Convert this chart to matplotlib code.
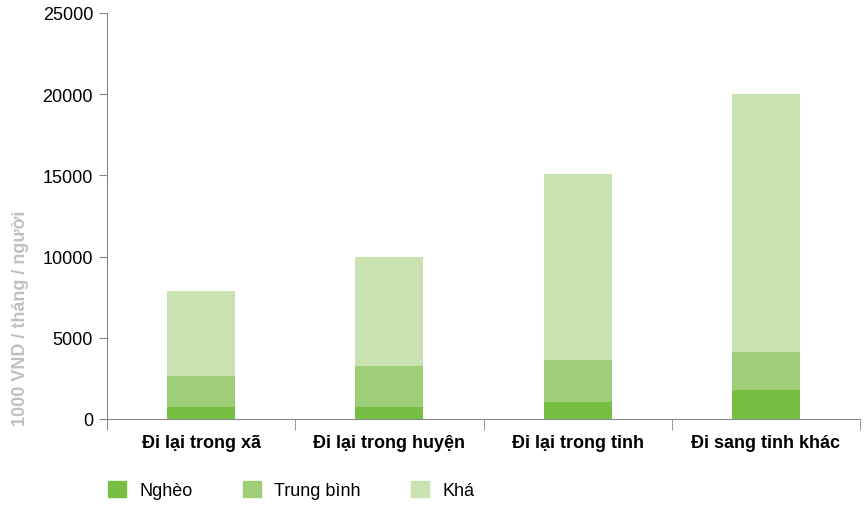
import matplotlib
matplotlib.use("Agg")
import matplotlib.pyplot as plt
from matplotlib.patches import Patch

plt.rcParams['font.family'] = ['Liberation Sans', 'DejaVu Sans']

# data (1000 VND / month / person)
categories = ['Đi lại trong xã', 'Đi lại trong huyện', 'Đi lại trong tỉnh', 'Đi sang tỉnh khác']
ngheo = [740, 740, 1050, 1790]
trung_binh = [2650, 3260, 3630, 4130]
kha = [7880, 9980, 15090, 20010]
series_names = ['Nghèo', 'Trung bình', 'Khá']
colors = ['#77bf43', '#9fce78', '#c8e2b0']

fig = plt.figure(figsize=(8.67, 5.06), dpi=100)
ax = fig.add_axes([107 / 867, 1 - 420 / 506, 753 / 867, 406 / 506])

x = list(range(len(categories)))
w = 0.36
# each level drawn from zero, lighter ones behind
ax.bar(x, kha, width=w, color=colors[2], zorder=1)
ax.bar(x, trung_binh, width=w, color=colors[1], zorder=2)
ax.bar(x, ngheo, width=w, color=colors[0], zorder=3)

ax.set_xlim(-0.5, len(categories) - 0.5)
ax.set_ylim(0, 25000)
ax.set_yticks([0, 5000, 10000, 15000, 20000, 25000])
ax.tick_params(axis='y', labelsize=13, length=6, color='#888888', pad=4)

ax.set_xticks(x)
ax.set_xticklabels(categories, fontsize=13, fontweight='bold')
ax.set_xticks([i - 0.5 for i in range(len(categories) + 1)], minor=True)
ax.tick_params(axis='x', which='major', length=0, pad=11)
ax.tick_params(axis='x', which='minor', length=8, color='#888888')

for s in ['top', 'right']:
    ax.spines[s].set_visible(False)
for s in ['left', 'bottom']:
    ax.spines[s].set_color('#888888')
ax.spines['left'].set_bounds(-600, 25000)

ax.set_ylabel('1000 VND / tháng / người', fontsize=13, fontweight='bold', color='#c0c0c0')
ax.yaxis.set_label_coords(-0.104, 0.25)

handles = [Patch(color=c) for c in colors]
fig.legend(handles, series_names, loc='center left', bbox_to_anchor=(92 / 867, 1 - 491 / 506),
           ncol=3, frameon=False, fontsize=13, handlelength=1.0, handleheight=1.0,
           handletextpad=0.75, columnspacing=2.75)

fig.savefig('out.png', dpi=100)
